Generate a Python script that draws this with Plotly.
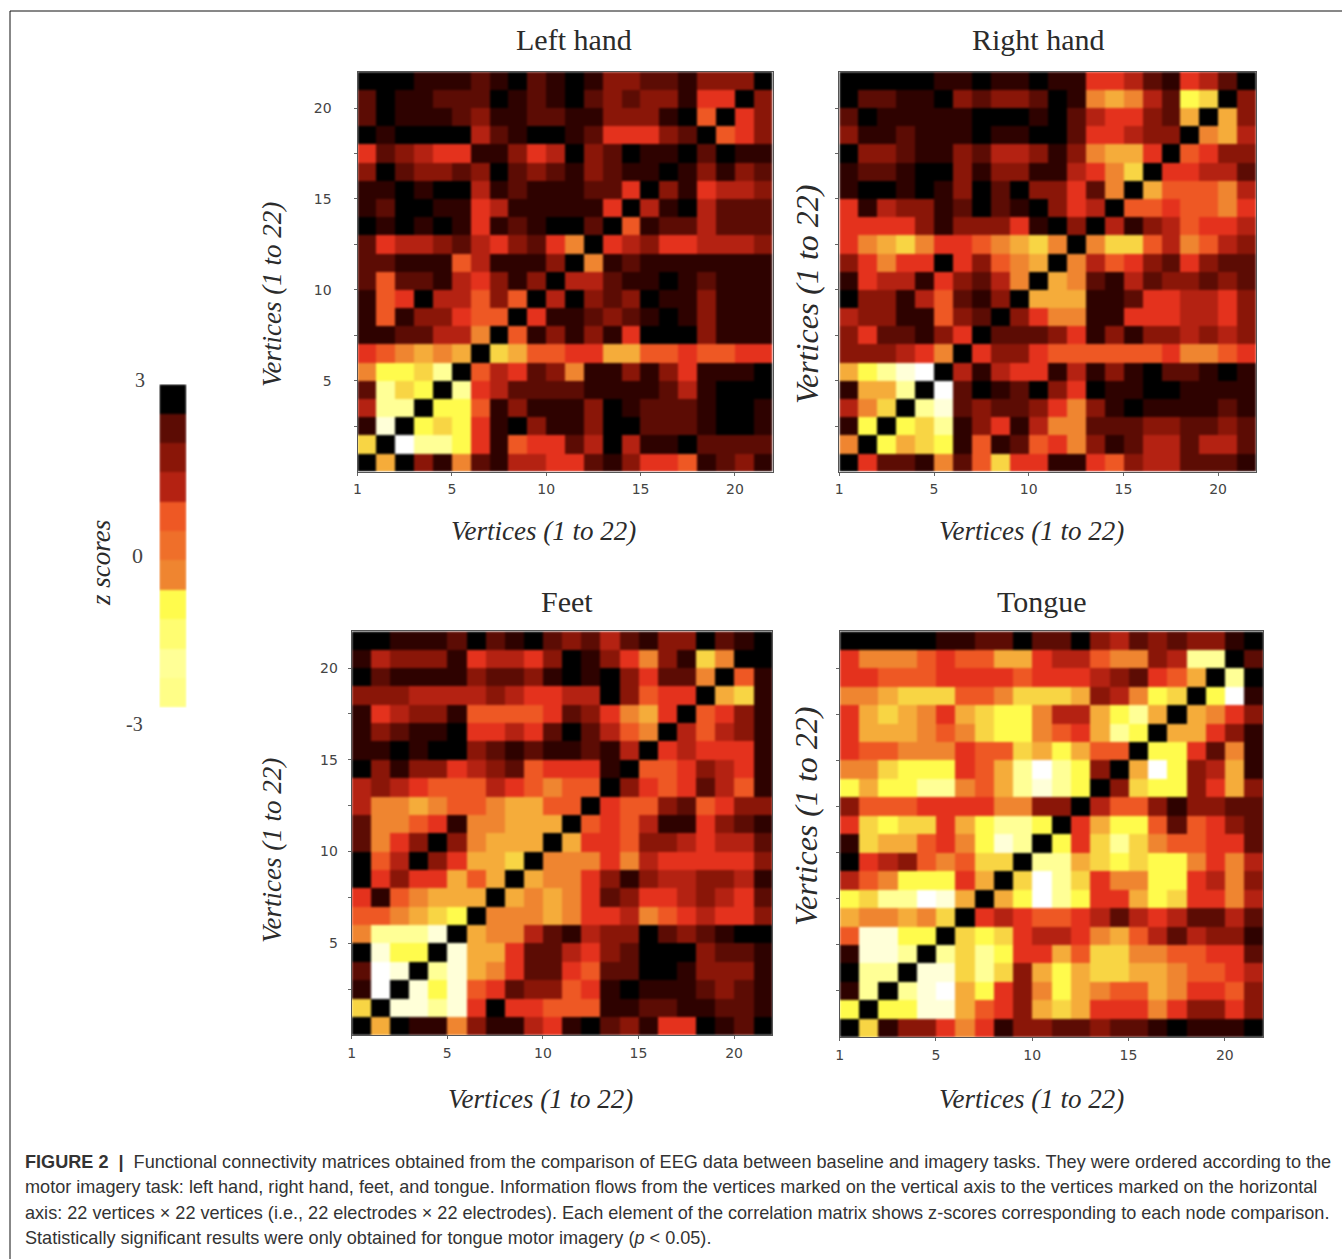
import plotly.graph_objects as go

# Values are colour levels: 0 = black (z = +3) ... 13 = white (z = -3)
LEFT_HAND = [
[0,0,0,1,1,1,2,1,0,2,1,0,1,3,3,2,2,1,3,3,3,0],
[2,0,1,1,2,2,2,0,1,2,1,0,2,3,2,3,3,1,5,5,0,3],
[2,0,1,1,1,2,3,1,1,2,2,1,1,3,3,3,1,0,6,0,5,3],
[0,1,0,0,0,0,4,2,1,0,0,1,2,5,5,5,3,2,0,6,5,3],
[5,2,3,4,5,5,1,1,3,5,4,0,3,2,0,1,1,0,2,0,1,1],
[3,0,2,3,3,2,3,0,2,3,2,1,3,2,1,1,0,1,3,1,3,2],
[1,1,0,1,0,0,4,1,2,1,1,1,2,2,5,0,3,1,5,4,4,3],
[1,2,0,0,1,1,5,4,1,1,1,1,1,5,0,4,1,0,4,2,2,2],
[0,1,0,1,0,1,5,1,2,1,0,0,2,0,6,1,2,2,4,2,2,2],
[2,5,4,4,3,2,4,5,3,2,5,7,0,5,4,3,5,5,4,4,4,3],
[2,2,1,1,1,6,4,1,1,1,3,0,7,1,2,1,1,1,1,1,1,1],
[2,6,2,2,1,4,5,3,1,3,0,4,4,2,1,1,0,1,2,1,1,1],
[1,6,5,0,4,4,6,3,6,0,4,0,3,2,3,0,1,1,3,1,1,1],
[1,6,1,3,3,5,6,6,0,5,1,1,2,3,2,1,0,1,3,1,1,1],
[1,1,2,2,4,4,7,0,6,1,3,1,3,1,5,0,0,0,3,1,1,1],
[5,6,7,8,7,8,0,9,8,6,6,5,5,8,8,6,6,5,6,6,5,5],
[7,10,10,9,11,0,6,4,5,2,3,7,1,1,3,1,3,5,1,1,1,0],
[2,11,9,10,0,11,5,4,2,2,2,2,1,1,1,1,2,4,1,0,0,0],
[4,11,11,0,10,10,6,1,3,1,1,1,3,0,1,2,2,2,1,0,0,1],
[1,12,0,10,9,10,5,1,0,3,1,1,3,0,0,2,2,2,1,0,0,1],
[9,0,13,11,11,10,5,1,6,5,5,2,4,0,4,1,1,0,2,2,2,2],
[0,8,0,3,1,7,2,1,4,4,5,5,2,1,3,5,5,6,1,2,3,1],
]
RIGHT_HAND = [
[0,0,0,0,0,1,1,0,1,1,0,1,1,5,5,4,2,1,5,4,2,0],
[0,2,2,1,1,0,3,2,3,3,2,0,1,7,8,7,4,2,10,9,0,3],
[2,0,1,1,1,1,1,0,0,0,1,0,2,4,5,5,3,2,8,0,8,3],
[3,1,1,2,1,1,1,0,1,1,0,0,2,5,5,4,3,3,0,7,8,4],
[0,3,3,2,1,1,3,2,4,4,3,1,3,7,8,8,5,0,6,5,3,3],
[1,2,2,1,0,0,3,1,3,3,1,1,4,5,7,9,0,5,5,4,4,2],
[1,0,0,1,0,1,3,0,2,0,3,3,5,2,7,0,8,6,6,6,7,4],
[5,1,4,3,3,1,2,0,2,1,0,3,5,4,0,6,6,5,6,6,7,5],
[5,5,5,5,3,1,3,3,3,5,1,0,3,0,4,1,3,4,6,5,5,4],
[5,7,8,9,7,5,5,6,7,8,9,7,0,7,9,9,6,4,7,6,4,3],
[3,5,7,5,5,0,5,3,6,7,8,0,7,4,6,5,3,2,5,3,2,2],
[1,5,4,4,1,5,3,2,4,7,0,8,7,2,1,4,2,3,3,2,3,2],
[0,3,3,1,4,6,2,1,3,0,8,8,8,1,1,2,5,5,4,4,5,3],
[4,3,3,1,1,6,3,2,0,3,5,7,7,1,1,5,5,5,4,4,5,3],
[3,5,2,2,1,3,5,0,2,2,2,3,5,1,3,1,3,3,4,3,4,3],
[3,3,3,4,5,7,0,5,3,3,5,6,6,6,6,6,6,5,7,7,6,5],
[8,10,11,12,13,0,4,1,4,5,5,1,4,1,3,1,0,2,2,1,0,1],
[1,8,8,11,0,13,2,0,1,2,0,3,5,0,1,1,0,0,1,1,1,1],
[4,7,9,0,11,12,2,3,2,2,3,5,7,3,1,0,1,1,1,1,2,1],
[1,10,0,10,9,11,1,3,5,1,4,7,7,2,2,2,3,3,2,2,3,2],
[7,0,10,8,9,10,1,6,1,2,6,5,7,3,1,2,4,4,2,4,4,2],
[0,5,2,2,1,7,2,6,9,5,5,1,1,5,6,3,4,4,2,2,2,1],
]
FEET = [
[0,0,1,1,1,2,0,2,1,0,2,3,2,4,2,1,3,3,0,2,1,0],
[1,4,3,3,3,1,5,4,4,5,3,0,1,3,5,7,3,1,9,7,0,0],
[0,2,1,1,1,1,3,2,2,3,1,0,1,0,3,5,2,2,7,0,6,1],
[3,3,3,4,4,4,4,3,4,5,5,4,4,0,3,6,5,5,0,8,9,1],
[1,5,4,3,3,1,6,6,6,6,5,2,3,5,7,8,5,0,6,5,3,1],
[1,3,2,1,1,0,5,5,4,5,2,0,2,4,6,7,0,4,6,4,3,1],
[1,1,0,1,0,0,3,2,1,2,1,1,2,1,4,0,5,4,5,5,5,1],
[0,3,1,3,3,5,4,3,2,6,5,5,5,1,0,6,6,5,3,4,5,1],
[4,3,4,5,6,6,6,4,5,6,7,6,6,0,3,5,6,5,2,4,6,1],
[4,7,7,8,7,6,6,7,8,8,6,6,0,5,6,6,3,2,6,5,3,3],
[2,7,7,6,5,1,7,7,8,8,8,0,6,5,6,4,1,1,5,3,2,1],
[2,7,5,3,0,3,7,8,8,8,0,8,5,5,6,3,3,4,5,4,4,2],
[0,6,4,0,3,5,8,8,9,0,7,7,7,5,7,4,5,5,5,5,5,3],
[0,5,3,5,5,8,6,8,0,8,7,7,5,3,1,3,4,4,3,3,4,1],
[5,1,6,7,8,8,8,0,8,7,8,7,5,2,3,5,5,4,3,4,5,2],
[6,6,7,8,9,10,0,7,7,7,8,7,5,5,4,7,6,5,4,5,5,3],
[7,11,11,11,12,0,8,7,7,4,2,1,4,3,3,0,2,3,2,1,0,0],
[0,12,10,10,0,12,8,8,5,2,2,4,5,3,2,0,0,0,3,2,2,1],
[2,13,12,0,11,12,8,7,5,2,2,5,6,2,2,0,0,1,3,3,3,1],
[1,13,0,12,10,12,6,5,2,3,3,6,5,1,0,1,1,1,2,3,2,1],
[9,0,12,12,11,12,5,0,5,5,6,6,6,1,1,2,2,1,1,2,2,1],
[0,8,0,1,1,7,3,1,1,4,5,1,0,2,3,1,5,5,0,1,2,0],
]
TONGUE = [
[0,0,0,0,0,1,1,2,2,0,2,2,0,3,4,2,3,2,3,3,1,0],
[5,7,7,7,6,5,6,6,8,8,5,4,4,6,7,7,3,4,11,11,0,2],
[5,5,6,6,6,5,5,5,5,6,5,5,5,4,3,2,5,6,8,0,11,0],
[7,7,8,9,9,9,6,6,7,9,9,9,8,3,4,7,10,9,0,10,13,1],
[5,8,9,8,7,5,8,9,10,10,7,4,4,8,10,11,8,0,8,7,5,3],
[5,8,8,8,7,6,7,9,10,10,7,6,5,8,11,10,0,8,8,5,3,1],
[5,6,6,7,7,7,5,6,6,9,8,10,8,6,6,0,10,10,5,2,7,1],
[7,7,9,10,10,10,5,6,8,11,13,11,10,3,0,8,13,10,3,4,8,1],
[10,8,10,10,11,11,7,6,8,11,12,11,10,0,3,9,10,10,3,5,8,3],
[3,6,6,6,5,5,5,5,7,7,3,3,0,4,6,6,3,1,3,3,2,2],
[5,9,10,9,9,5,8,10,11,11,10,0,5,8,10,10,6,2,6,5,3,2],
[1,9,8,8,6,5,7,10,12,11,0,10,5,9,11,9,7,6,6,5,5,2],
[0,5,4,3,6,7,6,9,9,0,11,11,8,9,10,9,10,10,7,5,7,4],
[4,6,7,10,10,10,5,8,0,9,13,11,9,5,7,7,10,10,5,4,7,3],
[10,9,11,11,13,12,8,0,8,10,13,11,10,5,5,8,10,9,5,5,7,4],
[8,7,7,8,7,9,0,5,4,5,6,6,5,4,2,4,5,4,2,2,4,2],
[6,12,12,10,10,0,9,10,9,5,4,4,5,7,8,6,4,2,4,3,3,1],
[1,12,12,11,0,11,9,11,10,5,5,8,6,9,9,7,7,6,6,5,5,2],
[0,11,11,0,12,12,9,11,9,3,8,10,8,9,9,8,8,7,6,6,5,4],
[1,11,0,11,12,13,8,10,5,3,7,10,8,7,6,6,8,7,5,5,6,3],
[10,0,10,10,12,12,8,6,5,3,8,9,8,5,5,5,7,5,3,3,5,3],
[0,9,1,3,3,5,7,5,1,3,3,2,2,3,2,2,1,0,1,1,1,0],
]
COLORBAR_LEVELS = [0, 2, 3, 4, 6, 6.5, 7, 10, 10.5, 11, 10.8]
LEVEL_COLORS = ["#000000", "#2e0200", "#5c0c04", "#8a1608", "#b42212", "#e4321d", "#ee5824",
                "#ef8530", "#f5ac3a", "#f8d544", "#fffb4c", "#ffff96", "#ffffd8", "#ffffff"]
X_TICKS = [0, 5, 10, 15, 20]
X_TICK_TEXT = ["1", "5", "10", "15", "20"]
Y_TICKS = [2.5, 5, 7.5, 10, 12.5, 15, 17.5, 20]
Y_TICK_TEXT = ["", "5", "", "10", "", "15", "", "20"]
EDGES = list(range(23))
CAPTION = [
    "<b>FIGURE 2  |</b>  Functional connectivity matrices obtained from the comparison of EEG data between baseline and imagery tasks. They were ordered according to the",
    "motor imagery task: left hand, right hand, feet, and tongue. Information flows from the vertices marked on the vertical axis to the vertices marked on the horizontal",
    "axis: 22 vertices × 22 vertices (i.e., 22 electrodes × 22 electrodes). Each element of the correlation matrix shows z-scores corresponding to each node comparison.",
    "Statistically significant results were only obtained for tongue motor imagery (<i>p</i> &lt; 0.05).",
]

W, H = 1342, 1259
PANELS = [
    dict(name="Left hand", rows=LEFT_HAND, box=(357.5, 772.7, 71.7, 471.5), title=(574, 39), xt=(543, 531), yt=(272, 295), ysize=27, labels=True, standoff=19),
    dict(name="Right hand", rows=RIGHT_HAND, box=(839.3, 1256, 71.7, 471.5), title=(1038, 39), xt=(1031, 531), yt=(807, 294), ysize=32, labels=False, standoff=0),
    dict(name="Feet", rows=FEET, box=(351.7, 772.3, 631.3, 1035), title=(567, 601), xt=(540, 1099), yt=(272, 851), ysize=27, labels=True, standoff=7),
    dict(name="Tongue", rows=TONGUE, box=(839.7, 1263.3, 631.3, 1037), title=(1042, 601), xt=(1031, 1099), yt=(806, 816), ysize=32, labels=False, standoff=0),
]

def px(x):
    return x / W

def py(y):
    return 1 - y / H

fig = go.Figure()
anns = []

def note(x, y, text, size, family="Liberation Serif", color="#2b2b2b", angle=0, xanchor="center"):
    anns.append(dict(x=px(x), y=py(y), xref="paper", yref="paper", text=text, showarrow=False,
                     textangle=angle, xanchor=xanchor, yanchor="middle",
                     font=dict(family=family, size=size, color=color)))

layout_axes = {}
for i, p in enumerate(PANELS, start=1):
    for r, row in enumerate(p["rows"]):
        assert len(row) == 22 and row[21 - r] == 0, (p["name"], r)
    assert len(p["rows"]) == 22
    x0, x1, y0, y1 = p["box"]
    fig.add_trace(go.Heatmap(x=EDGES, y=EDGES, z=p["rows"][::-1], coloraxis="coloraxis",
                             xaxis=f"x{i}", yaxis=f"y{i}", hoverinfo="skip"))
    layout_axes[f"xaxis{i}"] = dict(domain=[px(x0), px(x1)], range=[0, 22], anchor=f"y{i}", tickmode="array",
                                    tickvals=X_TICKS, ticktext=X_TICK_TEXT, ticks="outside", ticklen=3, tickcolor="#666",
                                    ticklabelstandoff=2,
                                    tickfont=dict(family="DejaVu Sans", size=14, color="#444"),
                                    showgrid=False, zeroline=False, showline=True, mirror=True,
                                    linecolor="#555", linewidth=1)
    layout_axes[f"yaxis{i}"] = dict(domain=[py(y1), py(y0)], range=[0, 22], anchor=f"x{i}", tickmode="array",
                                    tickvals=Y_TICKS, ticktext=Y_TICK_TEXT if p["labels"] else [""] * len(Y_TICKS),
                                    ticks="outside", ticklen=3, tickcolor="#666",
                                    ticklabelstandoff=p["standoff"],
                                    tickfont=dict(family="DejaVu Sans", size=14, color="#444"),
                                    showgrid=False, zeroline=False, showline=True, mirror=True,
                                    linecolor="#555", linewidth=1)
    note(*p["title"], p["name"], 30)
    note(*p["xt"], "<i>Vertices (1 to 22)</i>", 27)
    note(*p["yt"], "<i>Vertices (1 to 22)</i>", p["ysize"], angle=-90)

# colour key
fig.add_trace(go.Heatmap(x=[0, 1], y=list(range(12)), z=[[v] for v in COLORBAR_LEVELS[::-1]],
                         coloraxis="coloraxis", xaxis="x5", yaxis="y5", hoverinfo="skip"))
layout_axes["xaxis5"] = dict(domain=[px(159.3), px(186.7)], range=[0, 1], anchor="y5", visible=False)
layout_axes["yaxis5"] = dict(domain=[py(707.7), py(384.3)], range=[0, 11], anchor="x5", visible=False)
note(140, 380, "3", 20, color="#444")
note(137, 555, "0", 22, color="#444")
note(134, 724, "-3", 20, color="#444")
note(101, 563, "<i>z scores</i>", 27, angle=-90)

for j, line in enumerate(CAPTION):
    note(23, 1162 + j * 25.3, line, 18.1, family="Liberation Sans", color="#333", xanchor="left")

n = len(LEVEL_COLORS) - 1
fig.update_layout(
    width=W, height=H, autosize=False, margin=dict(l=0, r=0, t=0, b=0, autoexpand=False),
    paper_bgcolor="white", plot_bgcolor="white", showlegend=False,
    coloraxis=dict(cmin=0, cmax=n, showscale=False,
                   colorscale=[[k / n, c] for k, c in enumerate(LEVEL_COLORS)]),
    annotations=anns,
    shapes=[
        dict(type="line", xref="paper", yref="paper", x0=px(10), x1=1, y0=py(11), y1=py(11), line=dict(color="#111", width=1)),
        dict(type="line", xref="paper", yref="paper", x0=px(10), x1=px(10), y0=py(11), y1=0, line=dict(color="#111", width=1)),
    ],
    **layout_axes,
)
POST = """
document.body.style.margin='0';document.body.style.overflow='hidden';
var s=document.createElement('style');
s.textContent='.hm image{filter:blur(1.2px);}';
document.head.appendChild(s);
"""
fig.write_html("out.html", post_script=POST, config={"displayModeBar": False})
